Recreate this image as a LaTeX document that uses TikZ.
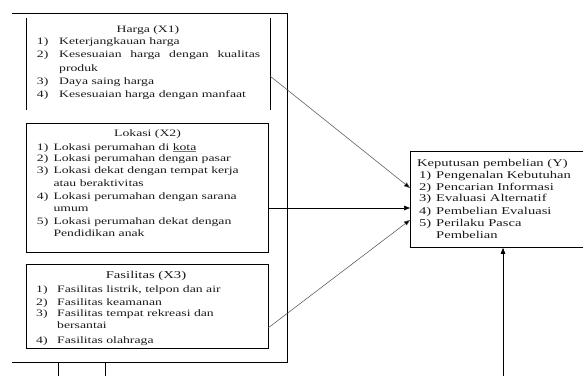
\documentclass[tikz,border=0pt]{standalone}
\usepackage{fontspec}
\setmainfont[FakeStretch=1.4]{Liberation Serif}
\usetikzlibrary{arrows.meta}
\begin{document}
\begin{tikzpicture}[x=1pt,y=-1pt,
  txt/.style={anchor=base west, inner sep=0pt, font=\fontsize{9.8}{12}\selectfont, text=black!90},
  ktxt/.style={txt, font=\fontsize{10.4}{12}\selectfont},
  ttl/.style={anchor=base, inner sep=0pt, font=\fontsize{9.8}{12}\selectfont, text=black!90},
  frame/.style={draw=black, line width=0.8pt},
  boxfr/.style={frame, anchor=north west, inner sep=0pt},
  arr/.style={-{Triangle[length=6pt,width=4.5pt]}, line width=0.7pt, draw=black},
  arrlight/.style={arr, line width=0.5pt, draw=black!70, -{Triangle[length=6pt,width=4.5pt,fill=black]}}]
\useasboundingbox (0,0) rectangle (583,376);

% outer frame
\coordinate (oTL) at (12,13);
\coordinate (oTR) at (287,13);
\coordinate (oBR) at (287,362);
\coordinate (oBL) at (12,362);
\draw[frame] (oTL) -- (oTR) -- (oBR) -- (oBL);
\coordinate (s1t) at (58,362);
\coordinate (s1b) at (58,376);
\coordinate (s2t) at (105,362);
\coordinate (s2b) at (105,376);
\draw[frame] (s1t) -- (s1b);
\draw[frame] (s2t) -- (s2b);

% boxes
\node[anchor=north west, inner sep=0pt, minimum width=244pt, minimum height=92pt] (harga) at (26,18) {};
\draw[frame] (harga.north west) -- (harga.south west);
\draw[frame] (harga.north east) -- (harga.south east);
\node[boxfr, minimum width=242pt, minimum height=129pt] (lokasi) at (26,123) {};
\node[boxfr, minimum width=242pt, minimum height=84pt] (fasil) at (26,264) {};
\node[boxfr, minimum width=178pt, minimum height=96pt] (kep) at (410,151) {};

% Harga text
\node[ttl] (h0) at (148,32.3) {Harga (X1)};
\node[txt] (h1n) at (36.7,44.3) {1)};
\node[txt] (h1) at (59,44.3) {Keterjangkauan harga};
\node[txt] (h2n) at (36.7,57.7) {2)};
\node[txt] (h2) at (59,57.7) {\makebox[201pt][s]{Kesesuaian harga dengan kualitas}};
\node[txt] (h2b) at (59,71) {produk};
\node[txt] (h3n) at (36.7,84.3) {3)};
\node[txt] (h3) at (59,84.3) {Daya saing harga};
\node[txt] (h4n) at (36.7,97.3) {4)};
\node[txt] (h4) at (59,97.3) {Kesesuaian harga dengan manfaat};

% Lokasi text
\node[ttl] (l0) at (147.5,136.7) {Lokasi (X2)};
\node[txt] (l1n) at (36.7,150) {1)};
\node[txt] (l1) at (53.3,150) {Lokasi perumahan di \textcolor{blue!60}{\underline{\textcolor{black!90}{kota}}}};
\node[txt] (l2n) at (36.7,161.7) {2)};
\node[txt] (l2) at (53.3,161.7) {Lokasi perumahan dengan pasar};
\node[txt] (l3n) at (36.7,173.3) {3)};
\node[txt] (l3) at (53.3,173.3) {Lokasi dekat dengan tempat kerja};
\node[txt] (l3b) at (53.3,186) {atau beraktivitas};
\node[txt] (l4n) at (36.7,199) {4)};
\node[txt] (l4) at (53.3,199) {Lokasi perumahan dengan sarana};
\node[txt] (l4b) at (53.3,211) {umum};
\node[txt] (l5n) at (36.7,224) {5)};
\node[txt] (l5) at (53.3,224) {Lokasi perumahan dekat dengan};
\node[txt] (l5b) at (53.3,236) {Pendidikan anak};

% Fasilitas text
\node[ttl, font=\fontsize{10.5}{12}\selectfont] (f0) at (146,278.3) {Fasilitas (X3)};
\node[txt] (f1n) at (36,292.3) {1)};
\node[txt] (f1) at (57,292.3) {Fasilitas listrik, telpon dan air};
\node[txt] (f2n) at (36,305) {2)};
\node[txt] (f2) at (57,305) {Fasilitas keamanan};
\node[txt] (f3n) at (36,316.7) {3)};
\node[txt] (f3) at (57,316.7) {Fasilitas tempat rekreasi dan};
\node[txt] (f3b) at (57,328.3) {bersantai};
\node[txt] (f4n) at (36,343.3) {4)};
\node[txt] (f4) at (57,343.3) {Fasilitas olahraga};

% Keputusan text
\node[ktxt] (k0) at (417,166.7) {Keputusan pembelian (Y)};
\node[ktxt] (k1n) at (419,178) {1)};
\node[ktxt] (k1) at (436,178) {Pengenalan Kebutuhan};
\node[ktxt] (k2n) at (419,190) {2)};
\node[ktxt] (k2) at (436,190) {Pencarian Informasi};
\node[ktxt] (k3n) at (419,201.7) {3)};
\node[ktxt] (k3) at (436,201.7) {Evaluasi Alternatif};
\node[ktxt] (k4n) at (419,214) {4)};
\node[ktxt] (k4) at (436,214) {Pembelian Evaluasi};
\node[ktxt] (k5n) at (419,226) {5)};
\node[ktxt] (k5) at (436,226) {Perilaku Pasca};
\node[ktxt] (k5b) at (436,238) {Pembelian};

% connectors
\coordinate (a1s) at (270,76);
\coordinate (a1e) at (410,188);
\coordinate (a2s) at (268,208);
\coordinate (a3s) at (268,328);
\coordinate (a3e) at (410,220);
\coordinate (ybot) at (503,376);
\draw[arrlight] (a1s) -- (a1e);
\draw[arr] (a2s) -- (a2s -| kep.west);
\draw[arrlight] (a3s) -- (a3e);
\draw[arr] (ybot) -- (ybot |- kep.south);
\end{tikzpicture}
\end{document}
